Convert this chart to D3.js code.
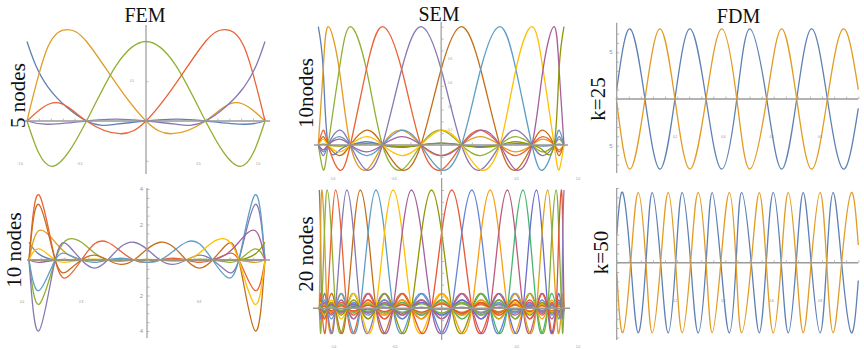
<!DOCTYPE html>
<html>
<head>
<meta charset="utf-8">
<script src="https://cdn.jsdelivr.net/npm/d3@7"></script>
<style>
  body { margin: 0; background: #fff; }
  text { font-family: "Liberation Serif", "DejaVu Serif", serif; }
</style>
</head>
<body>
<svg id="chart" width="864" height="349"></svg>
<script>
// Mathematica default plot colours
var palette = ["#5E81B5", "#E19C24", "#8FB032", "#EB6235", "#8778B3", "#C56E1A", "#5D9EC7", "#FFBF00", "#A5609D", "#929600",
               "#E95536", "#6685D9", "#F89F13", "#BC5B80", "#47B66D", "#6A6BD0", "#D9A21B", "#7FAE3A", "#E0542E", "#9277B8"];

var titles = ["FEM", "SEM", "FDM"];
var rowLabels = ["5 nodes", "10nodes", "k=25", "10 nodes", "20 nodes", "k=50"];

// ---- FEM, 5 nodes: key points [x, y] of each basis function (own node included)
var fem5Nodes = [-1, -0.5, 0, 0.5, 1];
var fem5Keys = [
  [[-1, 1], [-0.825, 0.43], [-0.25, -0.04], [0.25, 0.023], [0.825, -0.041]],
  [[-0.825, 0.93], [-0.66, 1.15], [-0.5, 1], [-0.25, 0.47], [0.218, -0.16], [0.753, 0.23]],
  [[-0.79, -0.57], [-0.25, 0.7], [0, 1], [0.25, 0.7], [0.79, -0.57]],
  [[-0.753, 0.23], [-0.218, -0.16], [0.25, 0.47], [0.5, 1], [0.66, 1.15], [0.825, 0.93]],
  [[-0.825, -0.041], [-0.25, 0.023], [0.25, -0.04], [0.825, 0.43], [1, 1]]
];

// ---- FEM, 10 nodes: value of each basis function inside each of the 9 intervals
var fem10Nodes = [0, 1, 2, 3, 4, 5, 6, 7, 8, 9];
var fem10LobeX = [0.38, 1.5, 2.5, 3.5, 4.5, 5.5, 6.5, 7.5, 8.62];
var fem10Lobes = [
  [0.33, -0.011, 0.002, 0, 0, 0, 0, 0, 0],
  [1.66, 0.295, -0.033, 0.011, -0.006, 0.006, -0.009, 0.023, -0.136],
  [-2.5, 1.18, 0.393, -0.071, 0.035, -0.03, 0.044, -0.107, 0.626],
  [3.67, -0.92, 0.92, 0.49, -0.135, 0.099, -0.131, 0.305, -1.72],
  [-3.99, 0.82, -0.46, 0.74, 0.605, -0.247, 0.275, -0.589, 3.13],
  [3.13, -0.589, 0.275, -0.247, 0.605, 0.74, -0.46, 0.82, -3.99],
  [-1.72, 0.305, -0.131, 0.099, -0.135, 0.49, 0.92, -0.92, 3.67],
  [0.626, -0.107, 0.044, -0.03, 0.035, -0.071, 0.393, 1.18, -2.5],
  [-0.136, 0.023, -0.009, 0.006, -0.006, 0.011, -0.033, 0.295, 1.66],
  [0, 0, 0, 0, 0, 0, 0.002, -0.011, 0.33]
];

// ---- SEM: node positions, main lobe value at mid-interval, side lobe heights by distance
var sem10Nodes = [-1, -0.92, -0.739, -0.478, -0.165, 0.165, 0.478, 0.739, 0.92, 1];
var sem20Nodes = [-1, -0.98, -0.936, -0.867, -0.775, -0.665, -0.537, -0.397, -0.247, -0.083,
                  0.083, 0.247, 0.397, 0.537, 0.665, 0.775, 0.867, 0.936, 0.98, 1];
var semMain = 0.64;
var semSide = [0.21, 0.125, 0.09, 0.07, 0.058, 0.049, 0.042, 0.037, 0.033, 0.03, 0.027, 0.025, 0.023, 0.021, 0.02, 0.019, 0.018, 0.017];
var semEndScale = 0.22;

// ---- FDM: extremes (alternating, first is a max of the blue one) and zero crossings, x in [0,1]
var fdmAmp = 7.5;
var fdm25Ext = [0.055, 0.179, 0.303, 0.435, 0.551, 0.683, 0.807, 0.938];
var fdm25Zeros = [0.117, 0.241, 0.37, 0.497, 0.621, 0.745, 0.872];
var fdm25Ends = [[1.0, -1.0], [-0.3, 1.0]];   // [start, end] for blue, orange
var fdm50Ext = [0.025, 0.089, 0.147, 0.213, 0.271, 0.337, 0.395, 0.466, 0.517, 0.59, 0.648, 0.71, 0.772, 0.842, 0.896, 0.971];
var fdm50Zeros = [0.058, 0.121, 0.182, 0.244, 0.306, 0.37, 0.431, 0.494, 0.557, 0.619, 0.681, 0.743, 0.805, 0.869, 0.931];
var fdm50Ends = [[3.0, -1.9], [-1.0, 1.9]];

function byX(a, b) { return a[0] - b[0]; }

function keyCurve(nodes, i, keys) {
  var pts = keys.slice();
  nodes.forEach(function(n, j) { if (j !== i) pts.push([n, 0]); });
  return pts.sort(byX);
}

function lobeCurve(nodes, i, vals, xs) {
  var pts = nodes.map(function(n, j) { return [n, j === i ? 1 : 0]; });
  vals.forEach(function(v, k) { pts.push([xs[k], v]); });
  return pts.sort(byX);
}

function semCurves(nodes) {
  var N = nodes.length - 1;
  var mids = d3.pairs(nodes).map(function(p) { return (p[0] + p[1]) / 2; });
  return nodes.map(function(n, i) {
    var vals = mids.map(function(m, k) {
      if (k === i - 1 || k === i) return semMain;
      var d = k > i ? k - i : i - 1 - k;
      return (d % 2 ? -1 : 1) * semSide[d - 1] * (i === 0 || i === N ? semEndScale : 1);
    });
    return lobeCurve(nodes, i, vals, mids);
  });
}

function waveCurves(ext, zeros, ends) {
  return [1, -1].map(function(sg, s) {
    var pts = [[0, ends[s][0]], [1, ends[s][1]]];
    ext.forEach(function(x, j) { pts.push([x, sg * fdmAmp * (j % 2 ? -1 : 1)]); });
    zeros.forEach(function(x) { pts.push([x, 0]); });
    return pts.sort(byX);
  });
}

var svg = d3.select("#chart");

var panels = [
  { curves: fem5Nodes.map(function(n, i) { return keyCurve(fem5Nodes, i, fem5Keys[i]); }),
    xDom: [-1, 1], xRange: [27, 265], yDom: [0, 1], yRange: [121, 41.5],
    hAxis: [25, 270], vAt: 0, vAxis: [25, 174], xTicks: d3.range(-1, 1.001, 0.1), yTicks: [-0.5, 0.5, 1],
    xLab: [-1, -0.5, 0.5, 1], xLabOff: [-7, 44], yLab: [0.5], yLabOff: [-14, 0] },
  { curves: semCurves(sem10Nodes),
    xDom: [-1, 1], xRange: [318.3, 564], yDom: [0, 1], yRange: [145, 26.7],
    hAxis: [314, 568], vAt: 0, vAxis: [21.7, 175], xTicks: d3.range(-1, 1.001, 0.25), yTicks: d3.range(-0.2, 1.01, 0.1),
    xLab: [-1, -0.5, 0.5, 1], xLabOff: [14, 35], yLab: [0.2, 0.4, 0.6, 0.8], yLabOff: [9, 9] },
  { curves: waveCurves(fdm25Ext, fdm25Zeros, fdm25Ends),
    xDom: [0, 1], xRange: [616.7, 858.3], yDom: [0, 5], yRange: [99, 52.3],
    hAxis: [615.7, 858.3], vAt: 0, vAxis: [22.7, 173], xTicks: d3.range(0, 1.001, 0.05), yTicks: d3.range(-7, 7.1, 1),
    xLab: [0.2, 0.4, 0.6, 0.8], xLabOff: [10, 39], yLab: [-5, 5], yLabOff: [-4, 0], bigY: true },
  { curves: fem10Nodes.map(function(n, i) { return lobeCurve(fem10Nodes, i, fem10Lobes[i], fem10LobeX); }),
    xDom: [0, 9], xRange: [29, 265], yDom: [0, 4], yRange: [260, 189],
    hAxis: [27, 270], vAt: 4.5, vAxis: [188, 338], xTicks: d3.range(0, 9.01, 0.45), yTicks: d3.range(-4, 4.1, 0.5),
    xLab: [0, 2.25, 6.75], xLabOff: [-7, 43], yLab: [-4, -2, 2, 4], yLabOff: [-4, 0], bigY: true },
  { curves: semCurves(sem20Nodes),
    xDom: [-1, 1], xRange: [319.3, 564], yDom: [0, 1], yRange: [308.3, 190],
    hAxis: [313, 570], vAt: 0, vAxis: [178, 340], xTicks: d3.range(-1, 1.001, 0.25), yTicks: d3.range(-0.2, 1.01, 0.1),
    xLab: [-1, -0.5, 0.5, 1], xLabOff: [14, 40], yLab: [], yLabOff: [0, 0] },
  { curves: waveCurves(fdm50Ext, fdm50Zeros, fdm50Ends),
    xDom: [0, 1], xRange: [616.7, 858.3], yDom: [0, 5], yRange: [262.7, 216],
    hAxis: [616.7, 858.3], vAt: 0, vAxis: [188, 340], xTicks: d3.range(0, 1.001, 0.05), yTicks: d3.range(-8, 8.1, 1),
    xLab: [0.2, 0.4, 0.6, 0.8], xLabOff: [10, 39], yLab: [], yLabOff: [0, 0] }
];

panels.forEach(function(p) {
  var g = svg.append("g");
  var x = d3.scaleLinear().domain(p.xDom).range(p.xRange);
  var y = d3.scaleLinear().domain(p.yDom).range(p.yRange);
  var y0 = y(0), vx = x(p.vAt);

  var line = d3.line()
      .x(function(d) { return x(d[0]); })
      .y(function(d) { return y(d[1]); })
      .curve(d3.curveNatural);

  g.selectAll(".curve")
    .data(p.curves)
    .enter().append("path")
      .attr("class", "curve")
      .attr("d", line)
      .attr("fill", "none")
      .attr("stroke", function(d, i) { return palette[i % palette.length]; })
      .attr("stroke-width", 1.3);

  // axes on top, mathematica style grey
  g.append("line")
      .attr("x1", p.hAxis[0]).attr("x2", p.hAxis[1])
      .attr("y1", y0).attr("y2", y0)
      .attr("stroke", "#9a9a9a").attr("stroke-width", 1.4);
  g.append("line")
      .attr("x1", vx).attr("x2", vx)
      .attr("y1", p.vAxis[0]).attr("y2", p.vAxis[1])
      .attr("stroke", "#9a9a9a").attr("stroke-width", 1.2);

  var xt = g.append("g")
      .attr("transform", "translate(0," + y0 + ")")
      .call(d3.axisTop(x).tickValues(p.xTicks).tickSize(2.5).tickFormat(""));
  var yt = g.append("g")
      .attr("transform", "translate(" + vx + ",0)")
      .call(d3.axisRight(y).tickValues(p.yTicks).tickSize(2.5).tickFormat(""));
  [xt, yt].forEach(function(a) {
    a.select(".domain").remove();
    a.selectAll(".tick line").attr("stroke", "#aaa").attr("stroke-width", 0.8);
  });

  // tick labels (rendered very small in the original)
  g.selectAll(".xlab")
    .data(p.xLab)
    .enter().append("text")
      .attr("x", function(d) { return x(d) + p.xLabOff[0]; })
      .attr("y", y0 + p.xLabOff[1])
      .attr("text-anchor", "middle")
      .style("font-family", "Liberation Sans, sans-serif")
      .style("font-size", "3px")
      .attr("fill", "#888")
      .text(function(d) { return d3.format(".1f")(d); });

  g.selectAll(".ylab")
    .data(p.yLab)
    .enter().append("text")
      .attr("x", vx + p.yLabOff[0])
      .attr("y", function(d) { return y(d) + p.yLabOff[1]; })
      .attr("dy", "0.35em")
      .attr("text-anchor", p.bigY ? "end" : "middle")
      .style("font-family", "Liberation Sans, sans-serif")
      .style("font-size", p.bigY ? "6px" : "3px")
      .attr("fill", "#999")
      .text(function(d) { return p.bigY ? Math.abs(d) : d3.format(".1f")(d); });
});

// column titles
var titlePos = [[145, 21.7], [439, 20.7], [738.5, 23]];
svg.selectAll(".title")
  .data(titles)
  .enter().append("text")
    .attr("class", "title")
    .attr("x", function(d, i) { return titlePos[i][0]; })
    .attr("y", function(d, i) { return titlePos[i][1]; })
    .attr("text-anchor", "middle")
    .style("font-size", "20px")
    .attr("fill", "#111")
    .text(function(d) { return d; });

// row labels, rotated
var rowPos = [[25, 95.5], [313, 93], [605, 99], [20.5, 250], [313, 254], [608, 252.5]];
svg.selectAll(".rowlab")
  .data(rowLabels)
  .enter().append("text")
    .attr("class", "rowlab")
    .attr("transform", function(d, i) { return "translate(" + rowPos[i][0] + "," + rowPos[i][1] + ") rotate(-90)"; })
    .attr("text-anchor", "middle")
    .style("font-size", "21px")
    .attr("fill", "#111")
    .text(function(d) { return d; });
</script>
</body>
</html>
